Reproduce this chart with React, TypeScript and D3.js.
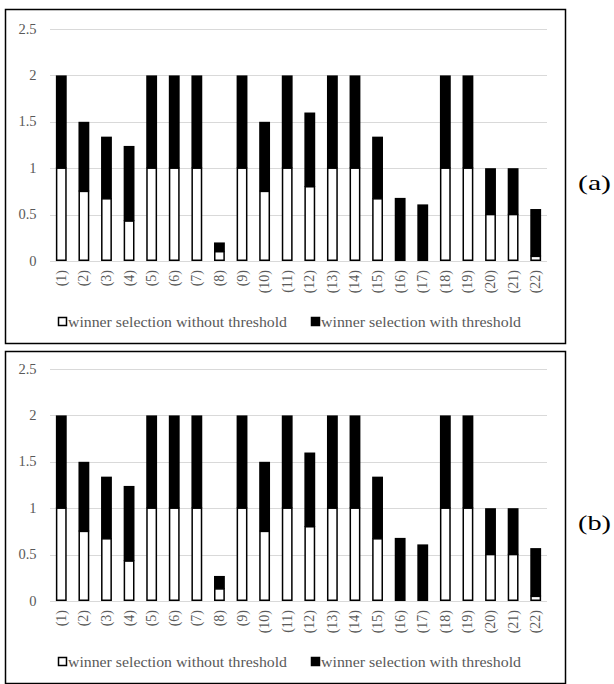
import React, { useEffect, useRef } from 'react';
import * as d3 from 'd3';

// categories (1) .. (22)
const categories = [
  '(1)', '(2)', '(3)', '(4)', '(5)', '(6)', '(7)', '(8)', '(9)', '(10)', '(11)',
  '(12)', '(13)', '(14)', '(15)', '(16)', '(17)', '(18)', '(19)', '(20)', '(21)', '(22)',
];

// panel (a)
const withoutThresholdA = [1, 0.75, 0.67, 0.43, 1, 1, 1, 0.1, 1, 0.75, 1, 0.8, 1, 1, 0.67, 0, 0, 1, 1, 0.5, 0.5, 0.05];
const withThresholdA = [1, 0.75, 0.67, 0.81, 1, 1, 1, 0.1, 1, 0.75, 1, 0.8, 1, 1, 0.67, 0.68, 0.61, 1, 1, 0.5, 0.5, 0.51];

// panel (b)
const withoutThresholdB = [1, 0.75, 0.67, 0.43, 1, 1, 1, 0.13, 1, 0.75, 1, 0.8, 1, 1, 0.67, 0, 0, 1, 1, 0.5, 0.5, 0.05];
const withThresholdB = [1, 0.75, 0.67, 0.81, 1, 1, 1, 0.14, 1, 0.75, 1, 0.8, 1, 1, 0.67, 0.68, 0.61, 1, 1, 0.5, 0.5, 0.52];

const yTicks = [0, 0.5, 1, 1.5, 2, 2.5];
const yTickLabels = ['0', '0.5', '1', '1.5', '2', '2.5'];
const legendLabels = ['winner selection without threshold', 'winner selection with threshold'];
const panelLabels = ['(a)', '(b)'];

const W = 614;
const H = 684;
const FONT = '"Liberation Serif", "Times New Roman", serif';
const GREY = '#595959';

export default function App() {
  const ref = useRef<SVGSVGElement>(null);

  useEffect(() => {
    const svg = d3.select(ref.current);
    svg.selectAll('*').remove();

    const panels = [
      { oy: 0, frameTop: 9.5, lower: withoutThresholdA, upper: withThresholdA, label: panelLabels[0] },
      { oy: 340, frameTop: 11.5, lower: withoutThresholdB, upper: withThresholdB, label: panelLabels[1] },
    ];

    const x = d3.scaleBand<string>()
      .domain(categories)
      .range([50, 547])
      .paddingInner(0.52)
      .paddingOuter(0.26);

    panels.forEach((p) => {
      const g = svg.append('g').attr('transform', `translate(0,${p.oy})`);
      const y = d3.scaleLinear().domain([0, 2.5]).range([261, 29]);

      // frame
      g.append('rect')
        .attr('x', 5.5).attr('y', p.frameTop)
        .attr('width', 560).attr('height', 343.5 - p.frameTop)
        .attr('fill', 'none').attr('stroke', '#000').attr('stroke-width', 1.5);

      // grid
      g.append('g').selectAll('line')
        .data(yTicks)
        .enter().append('line')
        .attr('x1', 50).attr('x2', 547)
        .attr('y1', (d) => Math.round(y(d)) + 0.5)
        .attr('y2', (d) => Math.round(y(d)) + 0.5)
        .attr('stroke', '#d9d9d9').attr('stroke-width', 1.2);

      g.append('g').selectAll('text')
        .data(yTicks)
        .enter().append('text')
        .attr('x', 36.5)
        .attr('y', (d) => y(d) + 4.5)
        .attr('text-anchor', 'end')
        .attr('font-family', FONT).attr('font-size', 14.5)
        .attr('fill', GREY)
        .text((d, i) => yTickLabels[i]);

      // bars
      const bw = x.bandwidth();
      g.append('g').selectAll('rect')
        .data(categories)
        .enter().append('rect')
        .attr('x', (d) => x(d)!)
        .attr('width', bw)
        .attr('y', (d, i) => y(p.lower[i] + p.upper[i]))
        .attr('height', (d, i) => y(p.lower[i]) - y(p.lower[i] + p.upper[i]))
        .attr('fill', '#000');

      g.append('g').selectAll('rect')
        .data(categories)
        .enter().append('rect')
        .attr('x', (d) => x(d)! + 0.75)
        .attr('width', bw - 1.5)
        .attr('y', (d, i) => y(p.lower[i]))
        .attr('height', (d, i) => Math.max(0, y(0) - y(p.lower[i]) - 0.75))
        .attr('fill', '#fff')
        .attr('stroke', '#000').attr('stroke-width', 1.5)
        .attr('display', (d, i) => (p.lower[i] > 0 ? null : 'none'));

      // x labels
      g.append('g').selectAll('text')
        .data(categories)
        .enter().append('text')
        .attr('transform', (d) => `translate(${x(d)! + bw / 2 + 4.5},270) rotate(-90)`)
        .attr('text-anchor', 'end')
        .attr('font-family', FONT).attr('font-size', 14)
        .attr('fill', GREY)
        .text((d) => d);

      // legend
      const legend = [
        { x: 58, fill: '#fff', len: 219 },
        { x: 311, fill: '#000', len: 200 },
      ];
      legend.forEach((l, i) => {
        g.append('rect')
          .attr('x', l.x + 0.5).attr('y', 317.5)
          .attr('width', 8).attr('height', 8)
          .attr('fill', l.fill).attr('stroke', '#000').attr('stroke-width', 1.5);
        g.append('text')
          .attr('x', l.x + 10).attr('y', 327)
          .attr('font-family', FONT).attr('font-size', 14.5)
          .attr('textLength', l.len).attr('lengthAdjust', 'spacingAndGlyphs')
          .attr('fill', GREY)
          .text(legendLabels[i]);
      });

      g.append('text')
        .attr('x', 578).attr('y', 190)
        .attr('font-family', FONT).attr('font-size', 22)
        .attr('textLength', 33).attr('lengthAdjust', 'spacingAndGlyphs')
        .attr('fill', '#000')
        .text(p.label);
    });
  }, []);

  return (
    <svg
      ref={ref}
      width={W}
      height={H}
      style={{ position: 'absolute', left: 0, top: 0, background: '#fff' }}
    />
  );
}
